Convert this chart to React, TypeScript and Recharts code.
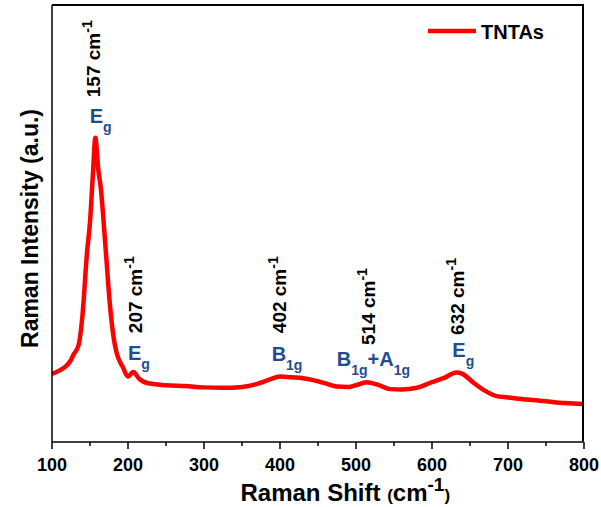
import React from "react";
import {
  LineChart,
  Line,
  XAxis,
  YAxis,
  ReferenceDot,
  Legend,
} from "recharts";

// Raman spectrum of TNTAs (a.u.)
const ramanShift = [
  100, 110, 120, 125, 128, 135, 140, 146, 150, 154, 157, 161, 164, 171, 176,
  181, 185, 193, 200, 207, 215, 225, 250, 275, 300, 325, 350, 370, 385, 400,
  415, 430, 445, 460, 475, 490, 500, 514, 530, 545, 560, 580, 600, 615, 632,
  640, 655, 670, 685, 700, 725, 750, 775, 800,
];
const intensity = [
  15.6, 16.4, 17.6, 18.8, 19.9, 22.2, 28.8, 43.2, 50.3, 61.8, 69.6, 62.2,
  58.4, 43.2, 31.8, 24.0, 20.4, 17.2, 15.0, 16.0, 14.4, 13.5, 13.0, 12.8,
  12.5, 12.4, 12.6, 13.3, 14.2, 15.0, 14.8, 14.6, 14.1, 13.4, 12.7, 12.6,
  13.0, 13.7, 13.0, 12.1, 12.0, 12.4, 13.7, 14.6, 15.9, 15.6, 13.5, 11.7,
  10.5, 10.2, 9.7, 9.3, 8.9, 8.7,
];

const xTicks = [
  100, 150, 200, 250, 300, 350, 400, 450, 500, 550, 600, 650, 700, 750, 800,
];

// peak position labels (rotated) and where they sit
const peakLabels = ["157", "207", "402", "514", "632"];
const peakLabelX = [162.9, 218.2, 408, 525.2, 641.6];
const peakLabelY = [78.9, 24.9, 24.9, 22.2, 24.5];

// vibrational modes: [main, subscript] pairs
const modeLabels: [string, string][][] = [
  [["E", "g"]],
  [["E", "g"]],
  [["B", "1g"]],
  [["B", "1g"], ["+A", "1g"]],
  [["E", "g"]],
];
const modeX = [149.7, 200, 389, 474.7, 626.7];
const modeY = [73.0, 18.8, 18.6, 17.4, 19.5];

const data = ramanShift.map((x, i) => ({ shift: x, intensity: intensity[i] }));

const FONT = "Arial, 'Liberation Sans', sans-serif";
const RED = "#ff0000";
const BLUE = "#1f4e8f";

const MARGIN = { top: 5, right: 17, bottom: 0, left: 0 };
const CHART_W = 601;
const CHART_H = 507;
const Y_AXIS_W = 52;
const X_AXIS_H = 65;

const XTick = (props: any) => {
  const { x, y, payload } = props;
  const major = payload.value % 100 === 0;
  return (
    <g>
      <line x1={x} x2={x} y1={y} y2={y + (major ? 7 : 4)} stroke="#000" strokeWidth={1.5} />
      {major && (
        <text x={x} y={y + 29} textAnchor="middle" fontSize={18} fontWeight="bold" fill="#000" fontFamily={FONT}>
          {payload.value}
        </text>
      )}
    </g>
  );
};

const XTitle = (props: any) => {
  const vb = props.viewBox || { x: 52, y: 442, width: 532 };
  return (
    <text x={vb.x + 188.5} y={vb.y + 59} fontSize={24} fontWeight="bold" fill="#000" fontFamily={FONT}>
      <tspan>Raman Shift </tspan>
      <tspan fontSize={17}>(</tspan>
      <tspan>cm</tspan>
      <tspan dy={-10} fontSize={19}>-1</tspan>
      <tspan dy={10} fontSize={17}>)</tspan>
    </text>
  );
};

const YTitle = (props: any) => {
  const vb = props.viewBox || { x: 0, y: 5, width: 52, height: 437 };
  const x = vb.x + 38;
  const y = vb.y + vb.height / 2 + 5;
  return (
    <text
      x={x}
      y={y}
      transform={`rotate(-90 ${x} ${y})`}
      textAnchor="middle"
      fontSize={23}
      fontWeight="bold"
      fill="#000"
      fontFamily={FONT}
    >
      Raman Intensity (a.u.)
    </text>
  );
};

const PeakNumber = ({ cx, cy, text }: { cx: number; cy: number; text: string }) => (
  <text
    x={cx}
    y={cy}
    transform={`rotate(-90 ${cx} ${cy})`}
    fontSize={19}
    fontWeight="bold"
    fill="#000"
    fontFamily={FONT}
  >
    {`${text} cm`}
    <tspan dy={-8} fontSize={14}>
      -1
    </tspan>
  </text>
);

const ModeLabel = ({ cx, cy, parts }: { cx: number; cy: number; parts: [string, string][] }) => (
  <text x={cx} y={cy} fontSize={20} fontWeight="bold" fill={BLUE} fontFamily={FONT}>
    {parts.map(([main, sub], i) => (
      <React.Fragment key={i}>
        <tspan dy={i === 0 ? 0 : -9}>{main}</tspan>
        <tspan dy={9} fontSize={14}>
          {sub}
        </tspan>
      </React.Fragment>
    ))}
  </text>
);

const LegendBox = () => (
  <svg width={130} height={28} style={{ display: "block" }}>
    <line x1={2} x2={50} y1={13} y2={13} stroke={RED} strokeWidth={4.5} />
    <text x={55} y={21} fontSize={20} fontWeight="bold" fill="#000" fontFamily={FONT}>
      TNTAs
    </text>
  </svg>
);

const boxLine = { stroke: "#000", strokeWidth: 1.5 };

export default function App() {
  // top + right edges of the plot frame, laid over the plot area
  const plotLeft = MARGIN.left + Y_AXIS_W;
  const plotWidth = CHART_W - MARGIN.left - MARGIN.right - Y_AXIS_W;
  const plotHeight = CHART_H - MARGIN.top - MARGIN.bottom - X_AXIS_H;

  return (
    <div style={{ position: "absolute", left: 0, top: 0, width: CHART_W, height: CHART_H, background: "#fff" }}>
      <LineChart width={CHART_W} height={CHART_H} data={data} margin={MARGIN}>
        <XAxis
          dataKey="shift"
          type="number"
          domain={[100, 800]}
          ticks={xTicks}
          interval={0}
          height={X_AXIS_H}
          tickSize={0}
          tickMargin={0}
          tick={<XTick />}
          axisLine={boxLine}
          label={(p: any) => <XTitle {...p} />}
          allowDataOverflow
        />
        <YAxis
          type="number"
          domain={[0, 100]}
          width={Y_AXIS_W}
          tick={false}
          tickLine={false}
          axisLine={boxLine}
          label={(p: any) => <YTitle {...p} />}
          allowDataOverflow
        />
        <Legend
          layout="horizontal"
          verticalAlign="middle"
          align="center"
          wrapperStyle={{ position: "absolute", left: 426, top: 18, width: 130, height: 28 }}
          content={() => <LegendBox />}
        />
        <Line
          type="monotone"
          dataKey="intensity"
          name="TNTAs"
          stroke={RED}
          strokeWidth={4.5}
          dot={false}
          activeDot={false}
          isAnimationActive={false}
        />
        {peakLabels.map((t, i) => (
          <ReferenceDot
            key={"p" + t}
            x={peakLabelX[i]}
            y={peakLabelY[i]}
            r={1}
            shape={(p: any) => <PeakNumber cx={p.cx} cy={p.cy} text={t} />}
          />
        ))}
        {modeLabels.map((parts, i) => (
          <ReferenceDot
            key={"m" + i}
            x={modeX[i]}
            y={modeY[i]}
            r={1}
            shape={(p: any) => <ModeLabel cx={p.cx} cy={p.cy} parts={parts} />}
          />
        ))}
      </LineChart>
      <div
        style={{
          position: "absolute",
          left: plotLeft,
          top: MARGIN.top - 1,
          width: plotWidth,
          height: plotHeight,
          borderTop: "2px solid #000",
          borderRight: "2px solid #000",
          boxSizing: "border-box",
          pointerEvents: "none",
        }}
      />
    </div>
  );
}
